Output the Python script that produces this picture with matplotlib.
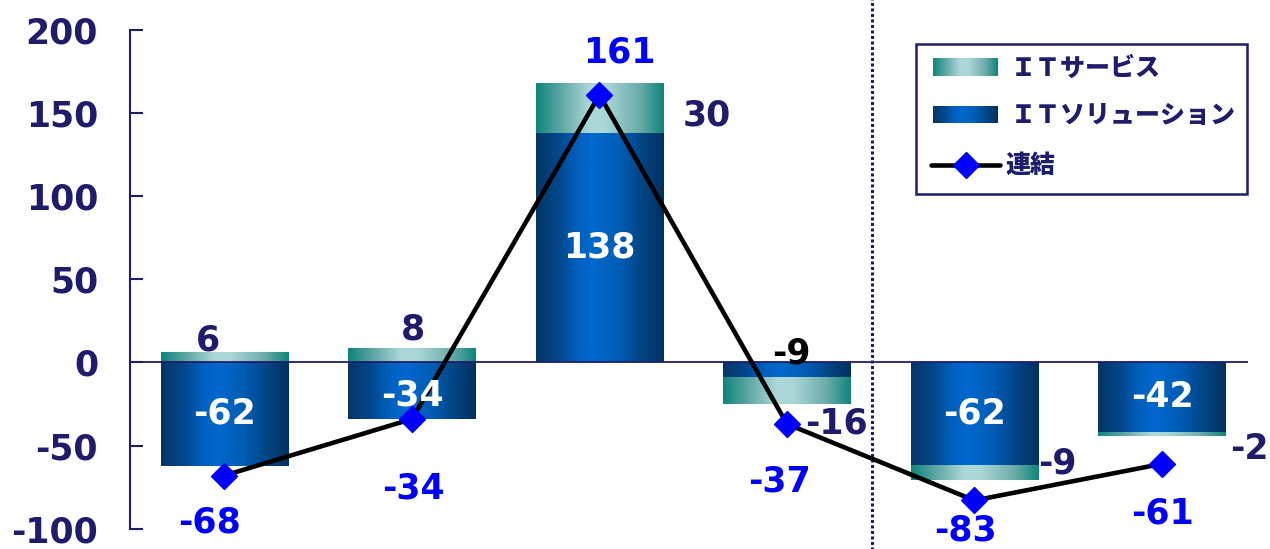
import numpy as np
import matplotlib
matplotlib.use("Agg")
import matplotlib.pyplot as plt
from matplotlib.colors import LinearSegmentedColormap
from matplotlib.lines import Line2D
from matplotlib.patches import Rectangle

# ---------------- data ----------------
categories = ["1", "2", "3", "4", "5", "6"]
it_solutions = [-62, -34, 138, -9, -62, -42]
it_services = [6, 8, 30, -16, -9, -2]
consolidated = [-68, -34, 161, -37, -83, -61]
series_names = ["ＩＴサービス", "ＩＴソリューション", "連結"]
y_ticks = [-100, -50, 0, 50, 100, 150, 200]

# ---------------- style ----------------
NAVY = "#1F1C6C"
BLUE_MARK = "#0000FF"
W, H, DPI = 1270, 549, 100
plt.rcParams["font.family"] = ["DejaVu Sans"]
plt.rcParams["font.weight"] = "bold"

blue_cmap = LinearSegmentedColormap.from_list(
    "blue", [(0.0, "#073566"), (0.18, "#02488C"), (0.32, "#0060BE"),
             (0.45, "#0068CE"), (0.65, "#005CB4"), (0.85, "#02427F"), (1.0, "#03305E")])
teal_cmap = LinearSegmentedColormap.from_list(
    "teal", [(0.0, "#0E857C"), (0.2, "#5FA8A6"), (0.42, "#AED8D8"),
             (0.55, "#A9D6D6"), (0.8, "#6FAEAC"), (1.0, "#0E857C")])
grad = np.linspace(0, 1, 256)[np.newaxis, :]

fig = plt.figure(figsize=(W / DPI, H / DPI), dpi=DPI)
ax_l, ax_r, ax_t, ax_b = 130, 1248, 30, 528.7
ax = fig.add_axes([ax_l / W, 1 - ax_b / H, (ax_r - ax_l) / W, (ax_b - ax_t) / H])

x = np.arange(len(categories))
bar_w = 0.68

# stacking: services sits on solutions when same sign, else starts at 0
sol = np.array(it_solutions, dtype=float)
svc = np.array(it_services, dtype=float)
svc_bottom = np.where(np.sign(sol) == np.sign(svc), sol, 0.0)

sol_bars = ax.bar(x, sol, bar_w, color="none", linewidth=0)
svc_bars = ax.bar(x, svc, bar_w, bottom=svc_bottom, color="none", linewidth=0)


def fill_gradient(rects, cmap):
    for r in rects:
        x0, y0 = r.get_x(), r.get_y()
        x1, y1 = x0 + r.get_width(), y0 + r.get_height()
        ax.imshow(grad, cmap=cmap, extent=(x0, x1, min(y0, y1), max(y0, y1)),
                  aspect="auto", interpolation="bicubic", zorder=2)


fill_gradient(sol_bars, blue_cmap)
fill_gradient(svc_bars, teal_cmap)

ax.axhline(0, color=NAVY, lw=1.3, zorder=3)

ax.plot(x, consolidated, color="black", lw=3.3, marker="D", ms=13,
        mfc=BLUE_MARK, mec=BLUE_MARK, mew=1, zorder=5)

# separator
ax.axvline(3.456, ymin=-0.05, ymax=1.07, color=NAVY, lw=2.2,
           linestyle=(0, (1, 0.8)), clip_on=False, zorder=1)

ax.set_xlim(-0.504, 5.459)
ax.set_ylim(-100, 200)
ax.set_yticks(y_ticks)
ax.set_yticklabels([str(v) for v in y_ticks])
for s in ["top", "right", "bottom"]:
    ax.spines[s].set_visible(False)
ax.spines["left"].set_color(NAVY)
ax.spines["left"].set_linewidth(1.5)
ax.set_xticks([])
ax.tick_params(axis="y", direction="in", length=9.5, width=1.5, color=NAVY,
               labelcolor=NAVY, labelsize=25, pad=23)
for t in ax.get_yticklabels():
    t.set_fontweight("bold")
ax.patch.set_alpha(0)

FS = 25
BIAS = 4  # px: ink centre sits above bbox centre


def label(xv, yv, text, dx, dy, color):
    ax.annotate(text, (xv, yv), xytext=(dx, dy - BIAS), textcoords="offset pixels",
                ha="center", va="center", fontsize=FS, fontweight="bold",
                color=color, zorder=6, annotation_clip=False)


# label offsets in pixels (dx, dy upward)
svc_off = [(-16.5, 21), (0.5, 30), (107.5, -3), (50, -29), (82.5, 13.4), (87.5, -10.6)]
sol_off = [(0, 4), (0, -1), (0, 4), (4, 20.5), (0, 4), (0, 4)]
sol_col = ["white", "white", "white", "black", "white", "white"]
con_off = [(-14.5, -43), (1.5, -66), (20, 46), (-7, -54), (-9.5, -26), (1, -46)]

for i in range(len(categories)):
    label(x[i], svc_bottom[i] + svc[i] / 2, f"{it_services[i]}", *svc_off[i], NAVY)
    label(x[i], sol[i] / 2, f"{it_solutions[i]}", *sol_off[i], sol_col[i])
    label(x[i], consolidated[i], f"{consolidated[i]}", *con_off[i], BLUE_MARK)

# ---------------- legend (manual, figure pixels) ----------------
def fx(px):
    return px / W


def fy(py):
    return 1 - py / H


fig.add_artist(Rectangle((fx(916), fy(194)), fx(1247) - fx(916), fy(44) - fy(194),
                         transform=fig.transFigure, facecolor="white",
                         edgecolor=NAVY, lw=1.8, zorder=10))
for (top, bot), cmap in [((58, 76), teal_cmap), ((106, 123), blue_cmap)]:
    pax = fig.add_axes([fx(933), fy(bot), fx(998) - fx(933), fy(top) - fy(bot)], zorder=11)
    pax.imshow(grad, cmap=cmap, aspect="auto", interpolation="bicubic")
    pax.axis("off")

lax = fig.add_axes([0, 0, 1, 1], zorder=12)
lax.axis("off")
lax.set_xlim(0, 1)
lax.set_ylim(0, 1)
lax.add_line(Line2D([fx(931), fx(1000)], [fy(165), fy(165)], color="black", lw=3.3,
                    solid_capstyle="round"))
lax.plot([fx(965.5)], [fy(165)], marker="D", ms=13, mfc=BLUE_MARK, mec=BLUE_MARK)
cjk = ["Noto Sans CJK JP", "DejaVu Sans"]
for (px, py), name in zip([(1011, 68), (1011, 115), (1005, 165)], series_names):
    lax.text(fx(px), fy(py), name, ha="left", va="center", fontsize=18,
             fontweight="heavy", color=NAVY, family=cjk)

fig.savefig("out.png", dpi=DPI)
